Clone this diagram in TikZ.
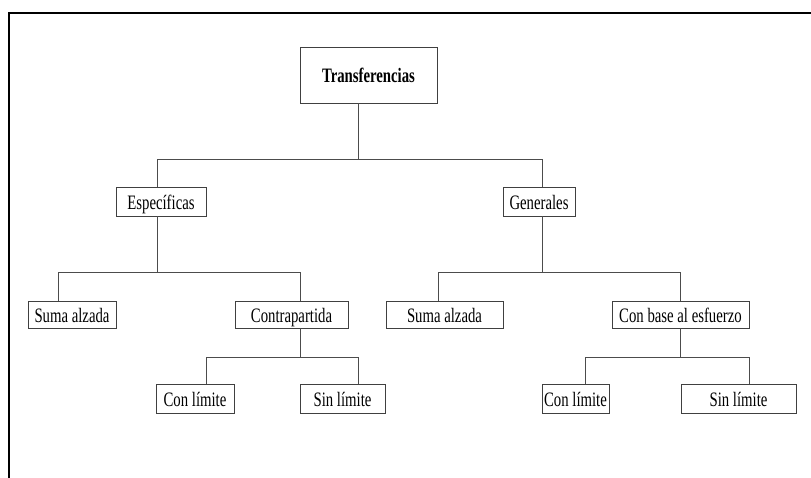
\documentclass[tikz,border=0pt]{standalone}
\usepackage{fontspec}
\setmainfont[FakeStretch=0.72]{Liberation Serif}
\begin{document}
\begin{tikzpicture}[x=1pt,y=-1pt,
  box/.style={draw=black!75, line width=0.9pt, fill=white, inner sep=0pt,
    text height=15pt, text depth=0pt, minimum height=28pt,
    font=\fontsize{20.5}{21}\selectfont},
  link/.style={draw=black!70, line width=0.9pt},
  frame/.style={draw=black, line width=2.5pt}]
\useasboundingbox (0,0) rectangle (811,477);
\clip (0,0) rectangle (811,477);

% outer frame (top and left edges)
\draw[frame] (820,13) -- (9,13) -- (9,490);

% boxes
\node[box, minimum width=137pt, minimum height=56pt, font=\fontsize{20.5}{21}\selectfont\bfseries]
  (top) at (368.5,75) {Transferencias};
\node[box, minimum width=90pt, minimum height=29pt] (esp) at (161,201.5) {Específicas};
\node[box, minimum width=72pt, minimum height=29pt] (gen) at (539,201.5) {Generales};
\node[box, minimum width=88pt, minimum height=27pt] (suma1) at (72,314.5) {Suma alzada};
\node[box, minimum width=113pt, minimum height=27pt] (contra) at (291.5,314.5) {Contrapartida};
\node[box, minimum width=117pt, minimum height=27pt] (suma2) at (444.5,314.5) {Suma alzada};
\node[box, minimum width=137pt, minimum height=27pt] (base) at (680.5,314.5) {Con base al esfuerzo};
\node[box, minimum width=78pt, minimum height=29pt] (con1) at (195,398.5) {Con límite};
\node[box, minimum width=85pt, minimum height=29pt] (sin1) at (342.5,398.5) {Sin límite};
\node[box, minimum width=67pt, minimum height=29pt] (con2) at (575.5,398.5) {Con límite};
\node[box, minimum width=115pt, minimum height=29pt] (sin2) at (738.5,398.5) {Sin límite};

% connectors
\draw[link] ([xshift=-10.5pt]top.south) -- ++(0,56) -| ([xshift=-4pt]esp.north);
\draw[link] ([xshift=-10.5pt]top.south) -- ++(0,56) -| ([xshift=3pt]gen.north);

\draw[link] ([xshift=-4pt]esp.south) -- ++(0,56) -| ([xshift=-14pt]suma1.north);
\draw[link] ([xshift=-4pt]esp.south) -- ++(0,56) -| ([xshift=8.5pt]contra.north);

\draw[link] ([xshift=3pt]gen.south) -- ++(0,56) -| ([xshift=-6.5pt]suma2.north);
\draw[link] ([xshift=3pt]gen.south) -- ++(0,56) -| ([xshift=0pt]base.north);

\draw[link] ([xshift=8.5pt]contra.south) -- ++(0,29) -| ([xshift=11pt]con1.north);
\draw[link] ([xshift=8.5pt]contra.south) -- ++(0,29) -| ([xshift=15.5pt]sin1.north);

\draw[link] (base.south) -- ++(0,29) -| ([xshift=9.5pt]con2.north);
\draw[link] (base.south) -- ++(0,29) -| ([xshift=10.5pt]sin2.north);
\end{tikzpicture}
\end{document}
